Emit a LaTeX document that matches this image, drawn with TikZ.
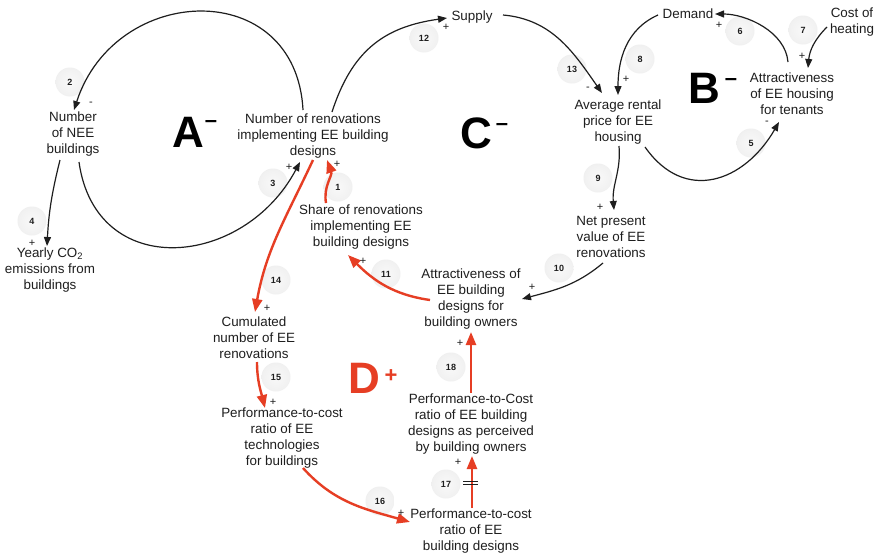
\documentclass[tikz,border=0pt]{standalone}
\usepackage{fontspec}
\setmainfont{Liberation Sans}
\usetikzlibrary{arrows.meta,calc}
\definecolor{loopred}{RGB}{230,62,36}
\definecolor{ink}{RGB}{30,30,30}
% soft grey disc for the link numbers
\pgfdeclareradialshading{badgeshade}{\pgfpoint{0bp}{0bp}}{%
  color(0bp)=(gray!5); color(24bp)=(gray!11); color(36bp)=(gray!22);
  color(43bp)=(gray!22); color(50bp)=(white); color(60bp)=(white)}
\begin{document}
\begin{tikzpicture}[x=1pt,y=1pt,
  var/.style={align=center,inner sep=0pt,font=\fontsize{13.4}{16}\selectfont,text=ink},
  badge/.style={circle,minimum size=29pt,inner sep=0pt,shading=badgeshade,
    font=\fontsize{9}{9}\selectfont\bfseries,text=ink},
  pol/.style={inner sep=0pt,font=\fontsize{11}{11}\selectfont,text=ink},
  loopname/.style={inner sep=0pt,font=\fontsize{44}{44}\selectfont\bfseries,anchor=base},
  loopsign/.style={inner sep=0pt,font=\fontsize{22}{22}\selectfont\bfseries,anchor=base},
  link/.style={draw=ink,line width=1.2pt,-{Triangle[length=9pt,width=7pt]}},
  rlink/.style={draw=loopred,line width=2.4pt,-{Triangle[length=13pt,width=10pt]}},
  delaymark/.style={draw=ink,line width=0.9pt},
]
\useasboundingbox[fill=white] (0,0) rectangle (879,-557);

% ---- variables ----
\node[var] (nee) at (73,-134) {Number\\of NEE\\buildings};
\node[var] (co2) at (50,-270) {Yearly CO\textsubscript{2}\\emissions from\\buildings};
\node[var] (ren) at (313,-136) {Number of renovations\\implementing EE building\\designs};
\node[var] (supply) at (472,-17) {Supply};
\node[var] (demand) at (688,-14) {Demand};
\node[var] (heat) at (852,-22) {Cost of\\heating};
\node[var] (attt) at (792,-94) {Attractiveness\\of EE housing\\for tenants};
\node[var] (rent) at (618,-122) {Average rental\\price for EE\\housing};
\node[var] (npv) at (611,-237) {Net present\\value of EE\\renovations};
\node[var] (atto) at (471,-299) {Attractiveness of\\EE building\\designs for\\building owners};
\node[var] (share) at (361,-227) {Share of renovations\\implementing EE\\building designs};
\node[var] (cum) at (254,-338) {Cumulated\\number of EE\\renovations};
\node[var] (ptct) at (282,-438) {Performance-to-cost\\ratio of EE\\technologies\\for buildings};
\node[var] (ptcp) at (471,-424) {Performance-to-Cost\\ratio of EE building\\designs as perceived\\by building owners};
\node[var] (ptcd) at (471,-531) {Performance-to-cost\\ratio of EE\\building designs};

% ---- loop names ----
\node[loopname] (lA) at (188,-147) {A};
\node[loopsign] (sA) at (211,-127) {–};
\node[loopname] (lB) at (704,-103) {B};
\node[loopsign] (sB) at (731,-85) {–};
\node[loopname] (lC) at (476,-148) {C};
\node[loopsign] (sC) at (502,-130) {–};
\node[loopname,text=loopred] (lD) at (364,-393) {D};
\node[loopsign,text=loopred] (sD) at (391,-382) {+};

% ---- numbered badges ----
\node[badge] (b1) at (338,-187) {1};
\node[badge] (b2) at (70,-82) {2};
\node[badge] (b3) at (273,-183) {3};
\node[badge] (b4) at (32,-221) {4};
\node[badge] (b5) at (751,-143) {5};
\node[badge] (b6) at (740,-31) {6};
\node[badge] (b7) at (803,-30) {7};
\node[badge] (b8) at (640,-59) {8};
\node[badge] (b9) at (598,-178) {9};
\node[badge] (b10) at (559,-268) {10};
\node[badge] (b11) at (386,-274) {11};
\node[badge] (b12) at (424,-38) {12};
\node[badge] (b13) at (572,-69) {13};
\node[badge] (b14) at (276,-280) {14};
\node[badge] (b15) at (276,-377) {15};
\node[badge] (b16) at (380,-501) {16};
\node[badge] (b17) at (446,-484) {17};
\node[badge] (b18) at (451,-367) {18};

% ---- loop A ----
\draw[link] ($(ren)+(-10,26)$) to[out=93,in=72,looseness=1.5] ($(nee)+(1,24)$);
\draw[link] ($(nee)+(6,-28)$) to[out=-82,in=-118,looseness=1.4] ($(ren)+(-13,-26)$);
\draw[link] ($(nee)+(-13,-26)$) to[out=-104,in=87] ($(co2)+(-3,24)$);

% ---- loop C ----
\draw[link] ($(ren)+(19,24)$) to[out=72,in=188,looseness=1.1] ($(supply)+(-25,-1)$);
\draw[link] ($(supply)+(31,2)$) to[out=-5,in=125] ($(rent)+(-16,29)$);
\draw[link] ($(rent)+(1,-24)$) to[out=-85,in=95] ($(npv)+(3,27)$);
\draw[link] ($(npv)+(-8,-26)$) to[out=220,in=15] ($(atto)+(51,0)$);

% ---- loop B ----
\draw[link] ($(demand)+(-30,-1)$) to[out=204,in=90] ($(rent)+(0,27)$);
\draw[link] ($(attt)+(-4,32)$) to[out=95,in=0,looseness=0.9] ($(demand)+(27,0)$);
\draw[link] ($(heat)+(-25,-5)$) to[out=225,in=85] ($(attt)+(16,26)$);
\draw[link] ($(rent)+(27,-25)$) to[out=-55,in=-120,looseness=1.3] ($(attt)+(-13,-28)$);

% ---- loop D and its feeds (red) ----
\draw[rlink] ($(share)+(-35,24)$) to[out=100,in=-70] ($(ren)+(14,-24)$);
\draw[rlink] ($(ren)+(0,-24)$) to[out=-115,in=80] ($(cum)+(1,26)$);
\draw[rlink] ($(atto)+(-41,-1)$) to[out=172,in=-45] ($(share)+(-13,-28)$);
\draw[rlink] ($(cum)+(3,-24)$) to[out=-90,in=104] ($(ptct)+(-17,30)$);
\draw[rlink] ($(ptct)+(21,-30)$) to[out=-48,in=164] ($(ptcd)+(-61,9)$);
\draw[rlink] ($(ptcd)+(1,23)$) -- ($(ptcp)+(1,-32)$);
\draw[rlink] ($(ptcp)+(0,31)$) -- ($(atto)+(0,-33)$);

% delay mark on link 17
\draw[delaymark] ($(ptcd)+(-8,50)$) -- ++(15,0);
\draw[delaymark] ($(ptcd)+(-8,47)$) -- ++(15,0);

% ---- polarities ----
\node[pol] (p2) at (91,-104) {-};
\node[pol] (p4) at (32,-243) {+};
\node[pol] (p3) at (289,-167) {+};
\node[pol] (p1) at (337,-164) {+};
\node[pol] (p12) at (446,-27) {+};
\node[pol] (p11) at (363,-261) {+};
\node[pol] (p13) at (588,-89) {-};
\node[pol] (p8) at (626,-79) {+};
\node[pol] (p6) at (719,-25) {+};
\node[pol] (p7) at (802,-56) {+};
\node[pol] (p5) at (767,-123) {-};
\node[pol] (p9) at (600,-207) {+};
\node[pol] (p10) at (532,-287) {+};
\node[pol] (p14) at (267,-308) {+};
\node[pol] (p15) at (273,-402) {+};
\node[pol] (p18) at (460,-343) {+};
\node[pol] (p17) at (458,-462) {+};
\node[pol] (p16) at (401,-513) {+};
\end{tikzpicture}
\end{document}
